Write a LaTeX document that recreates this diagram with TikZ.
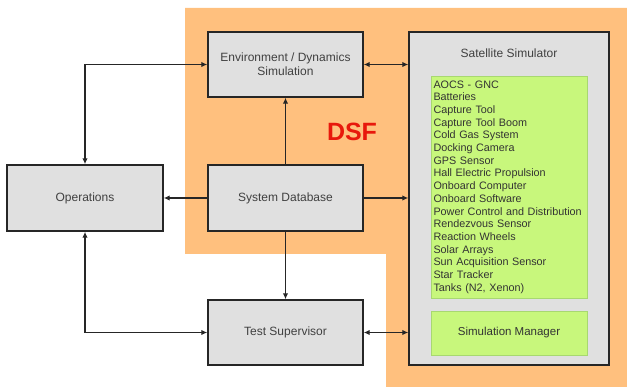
\documentclass[tikz,border=0pt]{standalone}
\usepackage{fontspec}
\setmainfont{Liberation Sans}
\usetikzlibrary{arrows.meta,positioning}

\definecolor{dsforange}{HTML}{FFC07E}
\definecolor{boxgray}{HTML}{E0E0E0}
\definecolor{modgreen}{HTML}{C8F77C}
\definecolor{modedge}{HTML}{A8D870}
\definecolor{dsfred}{HTML}{E8180C}

\tikzset{
  block/.style={draw=black!85, line width=1.4pt, fill=boxgray, minimum width=155pt,
    minimum height=65pt, align=center, font=\fontsize{12}{14}\selectfont, text=black!75},
  module/.style={draw=modedge, line width=0.8pt, fill=modgreen, minimum width=156pt,
    text=black!80},
  link/.style={line width=1.4pt, black!85, -{Latex[length=6pt,width=5.5pt]}},
  duplex/.style={link, {Latex[length=6pt,width=5.5pt]}-{Latex[length=6pt,width=5.5pt]}}
}

\begin{document}
\begin{tikzpicture}[x=1pt, y=-1pt]

  \useasboundingbox (0,0) rectangle (627,387);

  % --- DSF area ---
  \fill[dsforange] (185,8) -- (627,8) -- (627,387) -- (386,387)
        -- (386,254) -- (185,254) -- cycle;
  \node[font=\bfseries\fontsize{25}{25}\selectfont, text=dsfred] (dsf) at (352,132) {DSF};

  % --- Blocks ---
  \node[block] (env) at (285.5,64.5) {Environment / Dynamics\\Simulation};
  \node[block, minimum height=66pt] (db) at (285.5,198) {System Database};
  \node[block, minimum width=156pt, minimum height=66pt] (ops) at (85,198) {Operations};
  \node[block] (ts) at (285.5,332.5) {Test Supervisor};

  % --- Satellite simulator with its modules ---
  \node[block, minimum width=200pt, minimum height=333pt] (sat) at (509,198.5) {};
  \node[font=\fontsize{12}{14}\selectfont, text=black!75] (sattitle) at (509,53) {Satellite Simulator};
  \node[module, minimum height=222pt, align=left, text width=151pt, inner xsep=2.5pt,
        inner ysep=3pt, font=\fontsize{10.8}{12.7}\selectfont] (models) at (509,187)
    {AOCS - GNC\\Batteries\\Capture Tool\\Capture Tool Boom\\Cold Gas System\\%
     Docking Camera\\GPS Sensor\\Hall Electric Propulsion\\Onboard Computer\\%
     Onboard Software\\Power Control and Distribution\\Rendezvous Sensor\\%
     Reaction Wheels\\Solar Arrays\\Sun Acquisition Sensor\\Star Tracker\\%
     Tanks (N2, Xenon)};
  \node[module, minimum height=44pt, font=\fontsize{11.5}{13.5}\selectfont] (simman) at (509,333)
    {Simulation Manager};

  % --- Connections ---
  \draw[duplex] (ops.north) |- (env.west);
  \draw[duplex] (env.east) -- (env.east -| sat.west);
  \draw[link] (db) -- (env);
  \draw[link] (db) -- (ops);
  \draw[link] (db.east) -- (db.east -| sat.west);
  \draw[link] (db) -- (ts);
  \draw[duplex] (ops.south) |- (ts.west);
  \draw[duplex] (ts.east) -- (ts.east -| sat.west);

\end{tikzpicture}
\end{document}
